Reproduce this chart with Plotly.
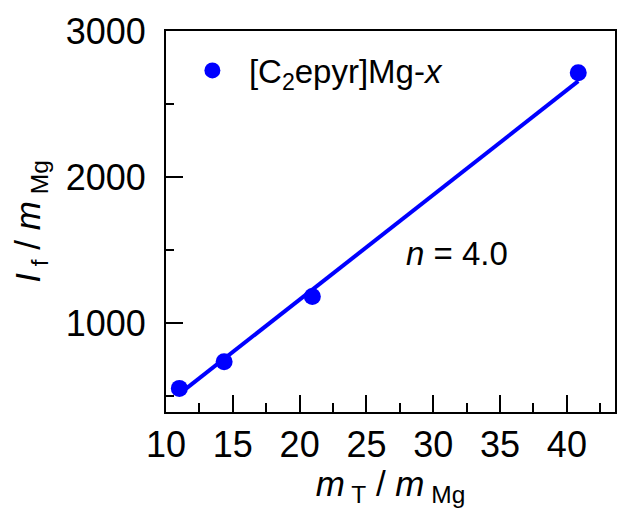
import plotly.graph_objects as go

# Data
mT_over_mMg = [11.0, 14.35, 20.95, 40.85]
If_over_mMg = [553, 735, 1183, 2718]
fit_x = [11.0, 40.85]
fit_y = [515, 2660]

x_ticks = [10, 15, 20, 25, 30, 35, 40]
y_ticks = [1000, 2000, 3000]

FONT = "Liberation Sans, Arial, sans-serif"
BLUE = "#0000ff"

fig = go.Figure()
fig.add_trace(go.Scatter(
    x=fit_x, y=fit_y, mode="lines",
    line=dict(color=BLUE, width=4), showlegend=False, hoverinfo="skip"))
fig.add_trace(go.Scatter(
    x=mT_over_mMg, y=If_over_mMg, mode="markers",
    marker=dict(color=BLUE, size=17),
    name="[C<sub>2</sub>epyr]Mg-<i>x</i>"))

fig.update_layout(
    width=621, height=508,
    margin=dict(l=166, r=4, t=31, b=96),
    paper_bgcolor="white", plot_bgcolor="white",
    font=dict(family=FONT, size=34, color="black"),
    showlegend=True,
    legend=dict(x=0.022, y=0.97, xanchor="left", yanchor="top",
                bgcolor="rgba(0,0,0,0)", font=dict(size=33),
                itemwidth=63),
    annotations=[dict(
        x=31.8, y=1480, xref="x", yref="y",
        text="<i>n</i> = 4.0", showarrow=False,
        font=dict(size=33, family=FONT))],
)

fig.update_xaxes(
    range=[10, 43.6], tickvals=x_ticks,
    ticks="inside", ticklen=17, tickwidth=2, tickcolor="black",
    minor=dict(dtick=2.5, tick0=10, ticks="inside", ticklen=9, tickwidth=2, tickcolor="black"),
    showline=True, linecolor="black", linewidth=2, mirror=True,
    showgrid=False, zeroline=False,
    ticklabelstandoff=0,
    tickfont=dict(size=36),
    title=dict(text="<i>m</i><sub> T</sub> / <i>m</i><sub> Mg</sub>",
               font=dict(size=35), standoff=2),
)
fig.update_yaxes(
    range=[391, 3004], tickvals=y_ticks,
    ticks="inside", ticklen=17, tickwidth=2, tickcolor="black",
    minor=dict(dtick=500, tick0=0, ticks="inside", ticklen=8, tickwidth=2, tickcolor="black"),
    showline=True, linecolor="black", linewidth=2, mirror=True,
    showgrid=False, zeroline=False,
    ticklabelstandoff=11,
    tickfont=dict(size=36),
    title=dict(text="<i>I</i><sub> f</sub> / <i>m</i><sub> Mg</sub>",
               font=dict(size=35), standoff=14),
)

fig.write_html("out.html", config={"displayModeBar": False},
               post_script="document.body.style.margin='0px';")
